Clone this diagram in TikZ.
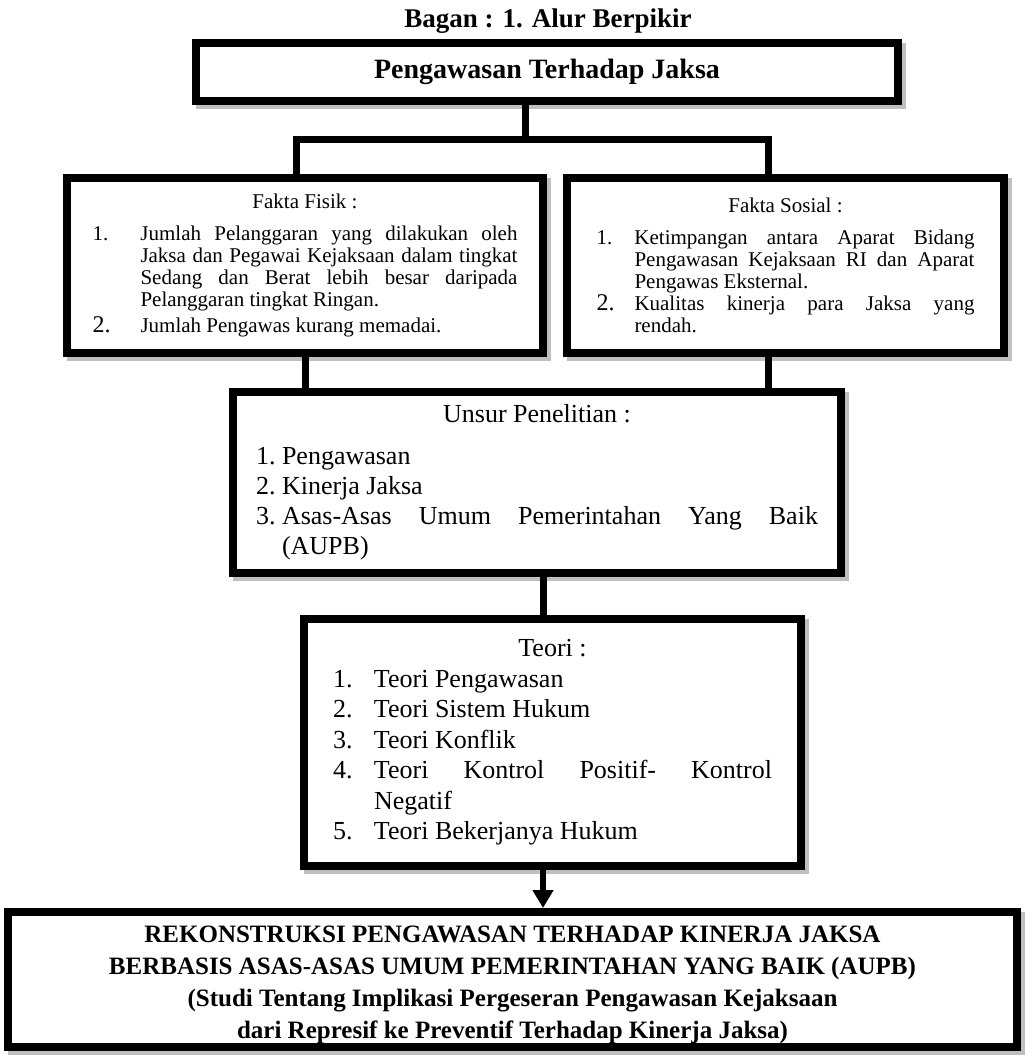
\documentclass[tikz,border=0pt]{standalone}
\usepackage{fontspec}
\setmainfont{Liberation Serif}
\usetikzlibrary{arrows.meta}

% one list entry: hanging number, justified text
\newcommand{\listrow}[3]{\par\noindent\hangindent=#1\hangafter=1\makebox[#1][l]{#2}#3\par}

\tikzset{
  box/.style={draw, rectangle, line width=8pt, fill=white, inner sep=0pt,
    preaction={draw=black!25, line width=8pt, transform canvas={shift={(4pt,-4pt)}}}},
  link/.style={line width=7pt},
  pointer/.style={line width=6pt, -{Triangle[width=20pt,length=18pt]}},
}

\begin{document}
\begin{tikzpicture}[x=1pt, y=-1pt]
\useasboundingbox (0,0) rectangle (1025,1055);

% Title
\node[font=\bfseries\fontsize{27}{30}\selectfont] (title) at (548,21) {Bagan : 1. Alur Berpikir};

% Top box
\node[box, minimum width=702pt, minimum height=58pt, font=\bfseries\fontsize{28}{30}\selectfont] (top) at (547,72) {Pengawasan Terhadap Jaksa};

% Fakta Fisik
\node[box, minimum width=476pt, minimum height=175pt, text width=425pt, align=justify,
      font=\fontsize{21}{22}\selectfont] (fisik) at (305,265.5) {%
  {\centering Fakta Fisik :\par}\vspace{10pt}
  \listrow{48pt}{1.}{Jumlah Pelanggaran yang dilakukan oleh\linebreak Jaksa dan Pegawai Kejaksaan dalam tingkat\linebreak Sedang dan Berat lebih besar daripada\linebreak Pelanggaran tingkat Ringan.}\vspace{4pt}
  \listrow{48pt}{\fontsize{24}{22}\selectfont 2.}{Jumlah Pengawas kurang memadai.}};

% Fakta Sosial
\node[box, minimum width=437pt, minimum height=175pt, text width=378pt, align=justify,
      font=\fontsize{21}{22}\selectfont] (sosial) at (785.5,265.5) {%
  {\centering Fakta Sosial :\par}\vspace{10pt}
  \listrow{38pt}{1.}{Ketimpangan antara Aparat Bidang\linebreak Pengawasan Kejaksaan RI dan Aparat\linebreak Pengawas Eksternal.}
  \listrow{38pt}{\fontsize{24}{22}\selectfont 2.}{Kualitas kinerja para Jaksa yang\linebreak rendah.}};

% Unsur Penelitian
\node[box, minimum width=608pt, minimum height=181pt, text width=562pt, align=justify,
      font=\fontsize{26}{30}\selectfont] (unsur) at (537,482.5) {%
  {\centering Unsur Penelitian :\par}\vspace{12pt}
  \listrow{26pt}{1.}{Pengawasan}
  \listrow{26pt}{2.}{Kinerja Jaksa}
  \listrow{26pt}{3.}{Asas-Asas Umum Pemerintahan Yang Baik\linebreak (AUPB)}};

% Teori
\node[box, minimum width=497pt, minimum height=247pt, text width=439pt, align=justify,
      font=\fontsize{26}{30.5}\selectfont] (teori) at (552.5,742.5) {%
  {\centering Teori :\par}
  \listrow{41pt}{1.}{Teori Pengawasan}
  \listrow{41pt}{2.}{Teori Sistem Hukum}
  \listrow{41pt}{3.}{Teori Konflik}
  \listrow{41pt}{4.}{Teori Kontrol Positif- Kontrol\linebreak Negatif}
  \listrow{41pt}{5.}{Teori Bekerjanya Hukum}};

% Result
\node[box, minimum width=1009pt, minimum height=135pt, align=center,
      font=\bfseries\fontsize{25}{32}\selectfont] (hasil) at (512.5,979.5) {%
  \rule{0pt}{28pt}REKONSTRUKSI PENGAWASAN TERHADAP KINERJA JAKSA\\
  BERBASIS ASAS-ASAS UMUM PEMERINTAHAN YANG BAIK (AUPB)\\
  (Studi Tentang Implikasi Pergeseran Pengawasan Kejaksaan\\
  dari Represif ke Preventif Terhadap Kinerja Jaksa)};

% Connectors
\coordinate (split) at (525,139);
\coordinate (jl) at (296,139);
\coordinate (jr) at (768,139);
\coordinate (mid) at (543,600);
\draw[link] (top.south -| split) -- (split);
\draw[link] (jl |- fisik.north) -- (jl) -- (jr) -- (jr |- sosial.north);
\draw[link] (fisik.south) -- (fisik.south |- unsur.north);
\draw[link] (jr |- sosial.south) -- (jr |- unsur.north);
\draw[link] (mid |- unsur.south) -- (mid |- teori.north);
\draw[pointer] (mid |- teori.south) -- (mid |- hasil.north);
\end{tikzpicture}
\end{document}
